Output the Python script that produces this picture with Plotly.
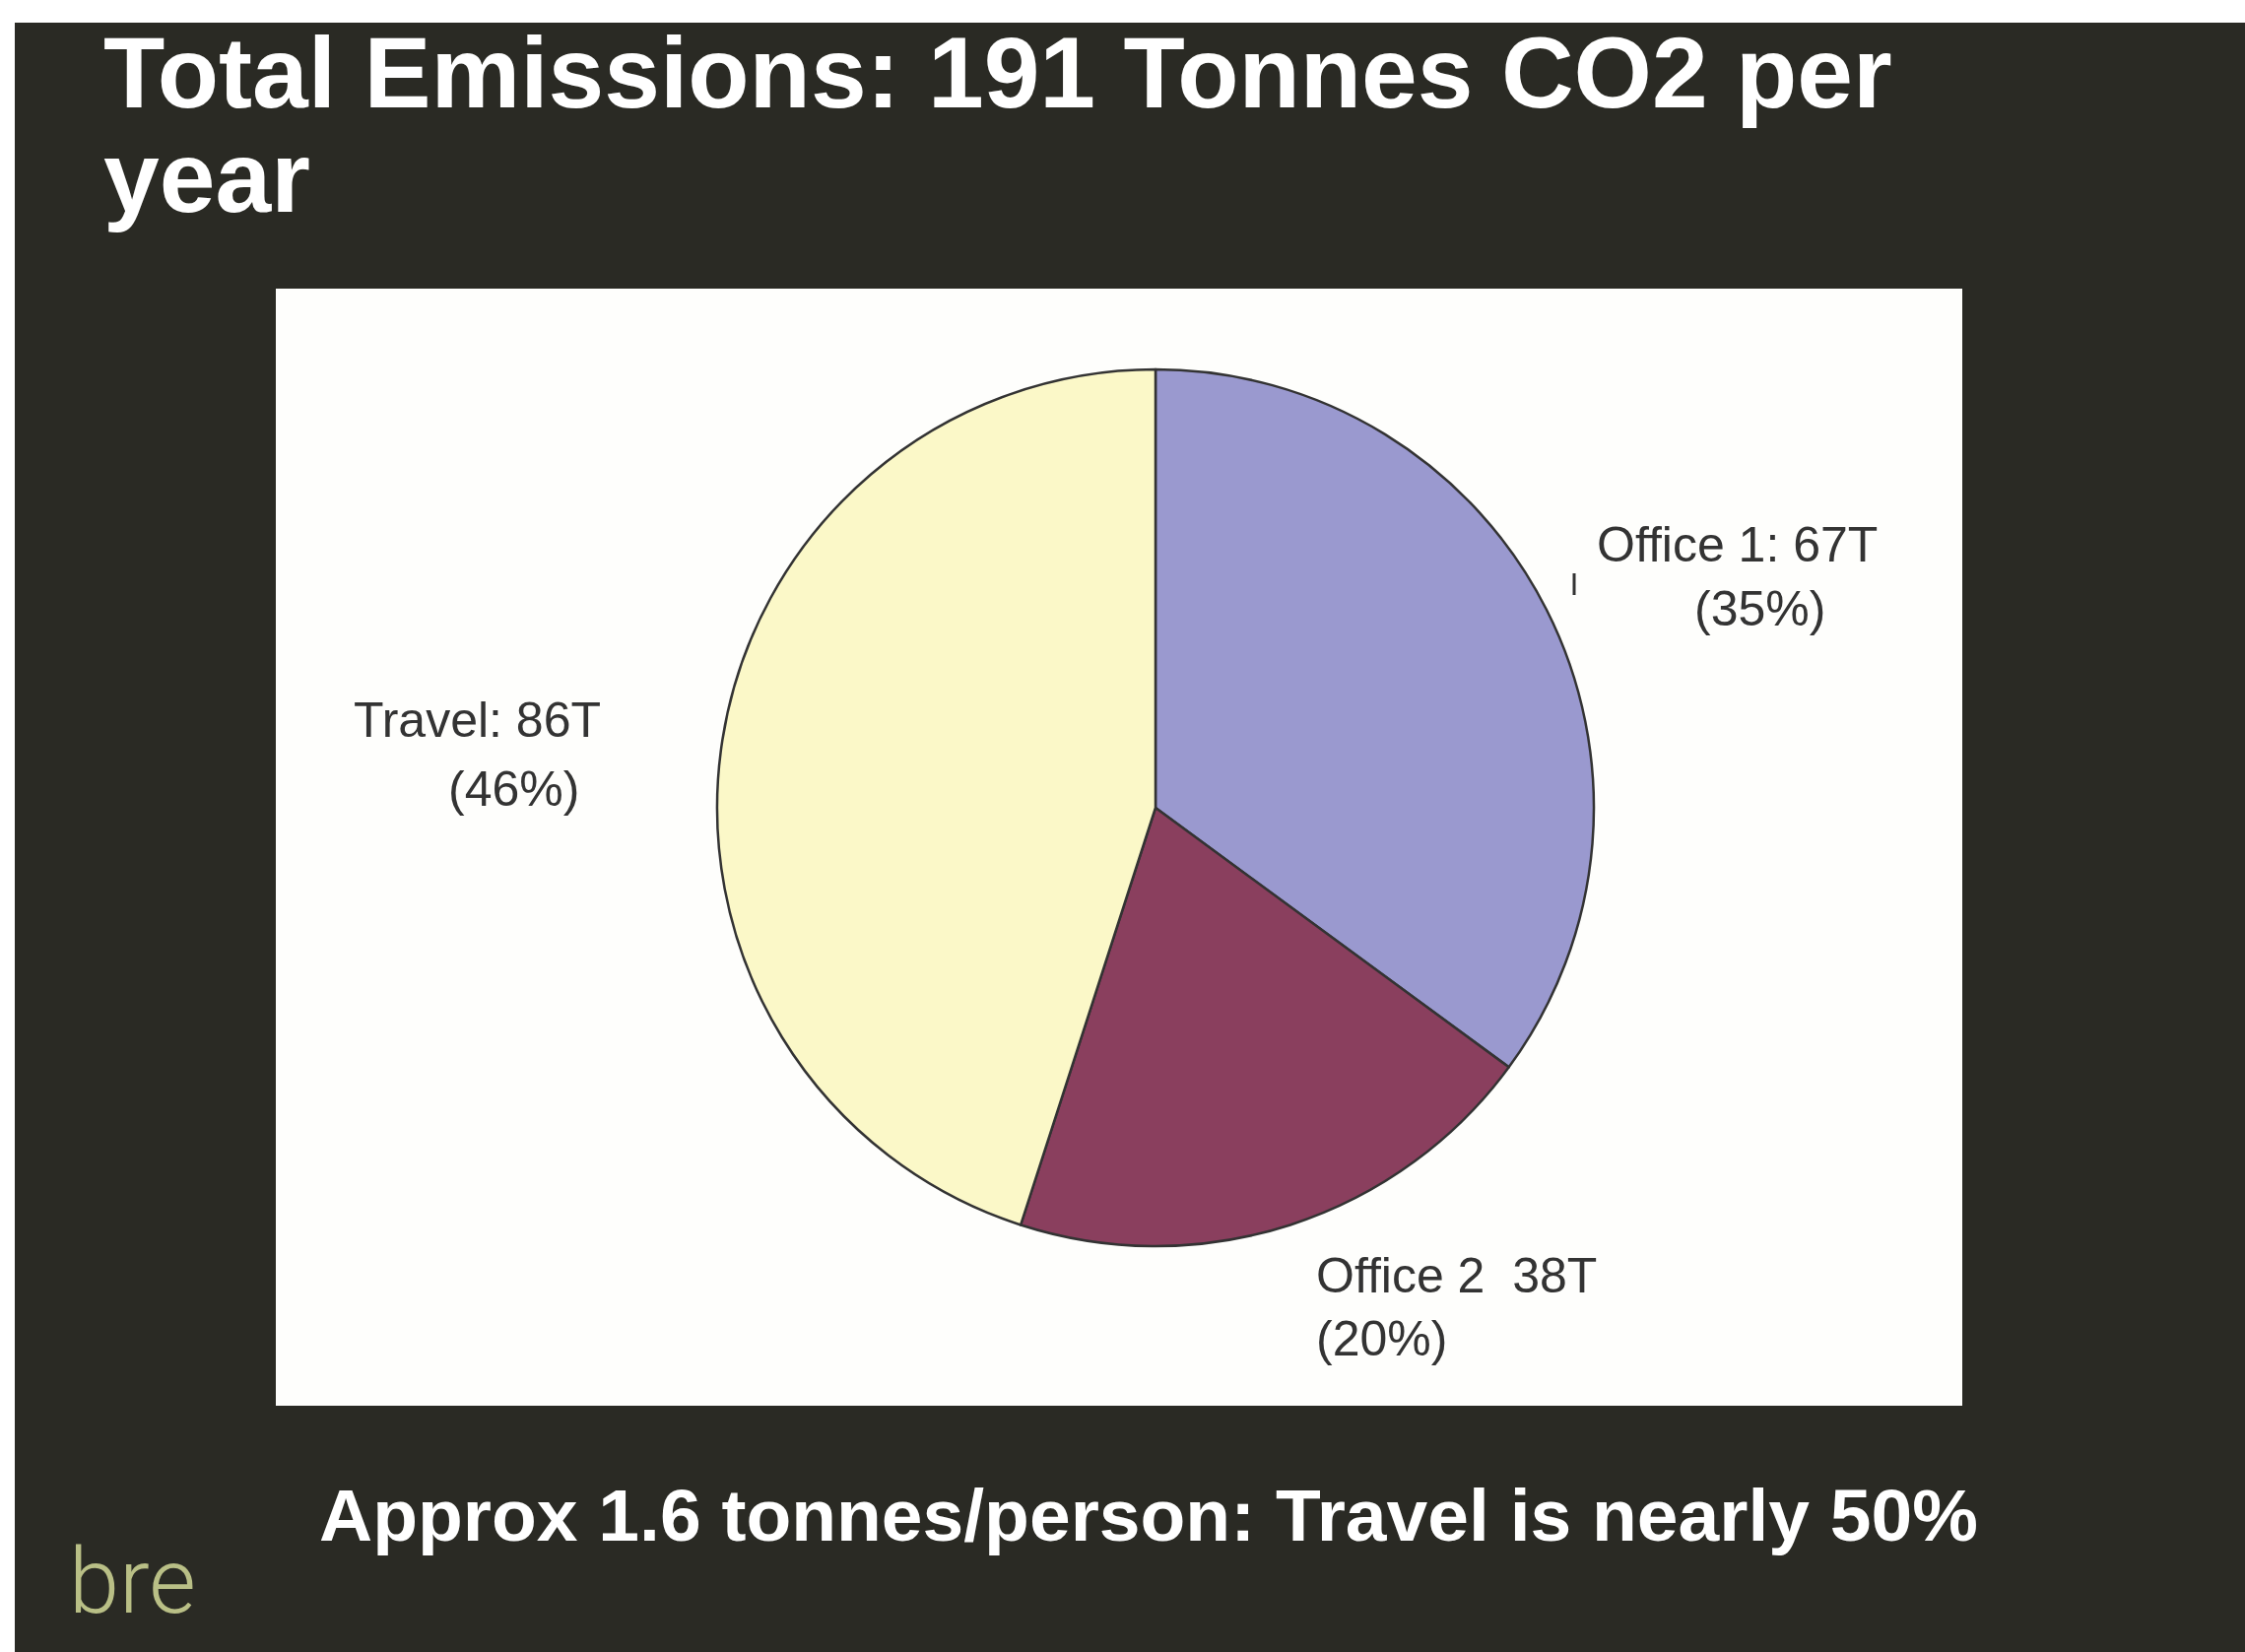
import plotly.graph_objects as go

# ---- data ----
categories = ["Office 1", "Office 2", "Travel"]
tonnes = [67, 38, 86]
percent_labels = [35, 20, 46]
name_labels = ["Office 1: 67T", "Office 2  38T", "Travel: 86T"]
slice_colors = ["#9a99cf", "#8a3f5e", "#fbf8c8"]
title_lines = ["Total Emissions: 191 Tonnes CO2 per", "year"]
footer_text = "Approx 1.6 tonnes/person: Travel is nearly 50%"
logo_text = "bre"

W, H = 2279, 1677


def px(x):
    return x / W


def py(y):
    return 1 - y / H


fig = go.Figure()

# pie centre ~ (1173, 820), radius ~ 445 px
cx, cy, r = 1173, 820, 445
fig.add_trace(go.Pie(
    labels=categories,
    values=tonnes,
    sort=False,
    direction="clockwise",
    rotation=0,
    textinfo="none",
    hoverinfo="label+value+percent",
    marker=dict(colors=slice_colors, line=dict(color="#333333", width=2.5)),
    domain=dict(x=[px(cx - r), px(cx + r)], y=[py(cy + r), py(cy - r)]),
    showlegend=False,
))

shapes = [
    # dark slide background (white strip at top/left like the scanned slide)
    dict(type="rect", xref="paper", yref="paper", x0=px(15), x1=1, y0=0, y1=py(23),
         fillcolor="#2a2a24", line=dict(width=0), layer="below"),
    # white chart area
    dict(type="rect", xref="paper", yref="paper", x0=px(280), x1=px(1992), y0=py(1427), y1=py(293),
         fillcolor="#fefefc", line=dict(width=0), layer="below"),
    # small leader tick near Office 1 label
    dict(type="line", xref="paper", yref="paper", x0=px(1598), x1=px(1598), y0=py(582), y1=py(604),
         line=dict(color="#333333", width=3)),
]

label_font = dict(family="Liberation Sans, Arial, sans-serif", size=50, color="#333333")
annotations = []
# label positions (pixel) for name line and percent line, per category
name_pos = [(1763, 553, "center"), (1334, 1295, "left"), (484, 731, "center")]
pct_pos = [(1786, 618, "center"), (1334, 1359, "left"), (521, 801, "center")]
for i in range(len(categories)):
    x, y, anc = name_pos[i]
    annotations.append(dict(text=name_labels[i], x=px(x), y=py(y), xref="paper", yref="paper",
                            xanchor=anc, yanchor="middle", showarrow=False, font=label_font))
    x, y, anc = pct_pos[i]
    annotations.append(dict(text=f"({percent_labels[i]}%)", x=px(x), y=py(y), xref="paper", yref="paper",
                            xanchor=anc, yanchor="middle", showarrow=False, font=label_font))

title_font = dict(family="Liberation Sans, Arial, sans-serif", size=102, color="#ffffff", weight="bold")
annotations.append(dict(text=title_lines[0], x=px(103), y=py(74), xref="paper", yref="paper",
                        xanchor="left", yanchor="middle", showarrow=False, font=title_font))
annotations.append(dict(text=title_lines[1], x=px(103), y=py(180), xref="paper", yref="paper",
                        xanchor="left", yanchor="middle", showarrow=False, font=title_font))

annotations.append(dict(text=footer_text, x=px(1166), y=py(1538), xref="paper", yref="paper",
                        xanchor="center", yanchor="middle", showarrow=False,
                        font=dict(family="Liberation Sans, Arial, sans-serif", size=75,
                                  color="#ffffff", weight="bold")))

annotations.append(dict(text=logo_text, x=px(68), y=py(1605), xref="paper", yref="paper",
                        xanchor="left", yanchor="middle", showarrow=False,
                        font=dict(family="Roboto, sans-serif", size=92, color="#b9bf86", weight=300)))

fig.update_layout(
    width=W, height=H,
    margin=dict(l=0, r=0, t=0, b=0),
    paper_bgcolor="#ffffff",
    plot_bgcolor="#ffffff",
    shapes=shapes,
    annotations=annotations,
)

fig.write_html("out.html")
